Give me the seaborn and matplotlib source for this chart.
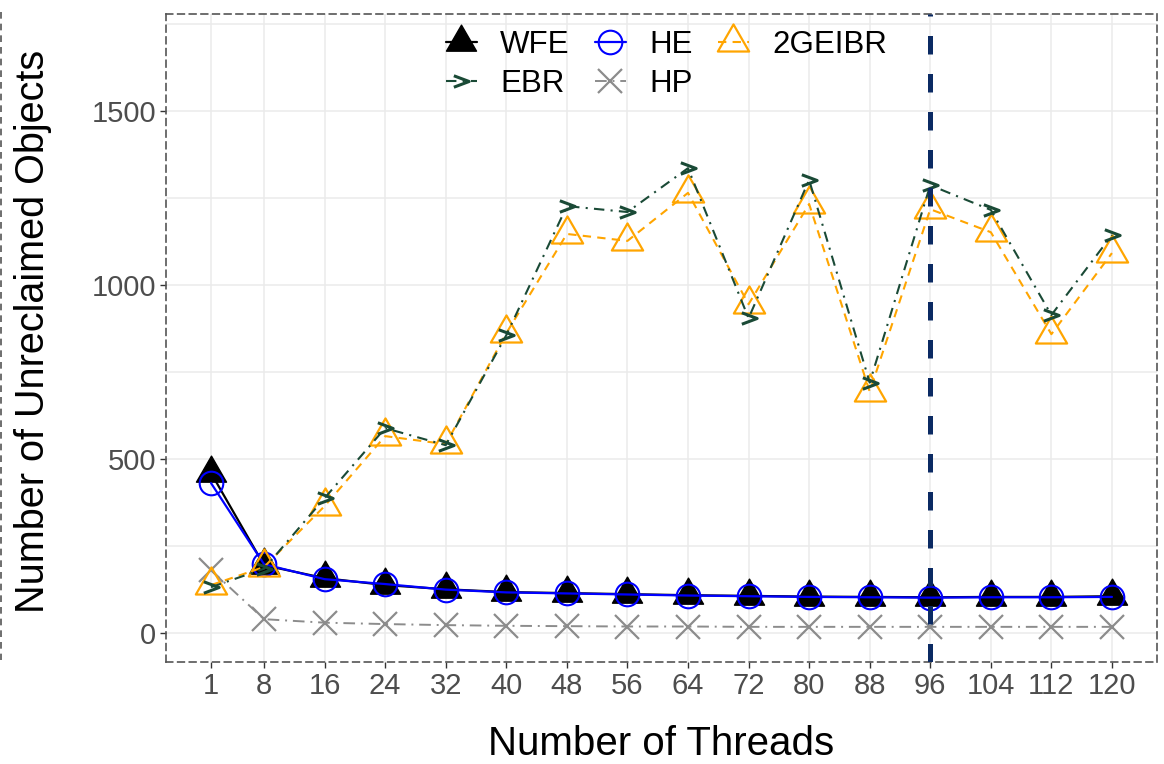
import matplotlib
matplotlib.use("Agg")
import matplotlib.pyplot as plt
import seaborn as sns
import numpy as np
from matplotlib.path import Path
from matplotlib.lines import Line2D

threads = [1, 8, 16, 24, 32, 40, 48, 56, 64, 72, 80, 88, 96, 104, 112, 120]
wfe = [460, 195, 158, 138, 126, 118, 115, 112, 109, 107, 105, 104, 103, 104, 104, 106]
he = [431, 198, 155, 141, 125, 117, 114, 111, 108, 106, 104, 103, 102, 103, 103, 104]
hp = [181, 40, 30, 26, 23, 21, 20, 19, 19, 18, 18, 18, 18, 18, 18, 18]
ebr = [132, 185, 388, 589, 540, 856, 1227, 1210, 1336, 905, 1302, 720, 1287, 1216, 914, 1144]
geibr = [138, 190, 365, 566, 543, 862, 1147, 1127, 1265, 945, 1233, 694, 1218, 1152, 859, 1092]
yticks = [0, 500, 1000, 1500]
vline_x = 96

sns.set_theme(style="whitegrid")
plt.rcParams['font.family'] = ['Liberation Sans', 'DejaVu Sans']

fig = plt.figure(figsize=(11.64, 7.64), dpi=100)
ax = fig.add_axes([166/1164, 1-662/764, (1157-166)/1164, (662-14)/764])

tri = Path([(0, 1.155), (-1, -0.577), (1, -0.577), (0, 1.155)],
           [Path.MOVETO, Path.LINETO, Path.LINETO, Path.CLOSEPOLY])
chev = Path([(-1, 0.75), (1, 0.0), (-1, -0.75)],
            [Path.MOVETO, Path.LINETO, Path.LINETO])

sns.lineplot(x=threads, y=wfe, ax=ax, color='black', lw=1.6, linestyle='-',
             marker=tri, markersize=25, markerfacecolor='black',
             markeredgecolor='black', markeredgewidth=1, label='WFE', zorder=3)
sns.lineplot(x=threads, y=he, ax=ax, color='#0000ff', lw=1.6, linestyle='-',
             marker='o', markersize=17, markerfacecolor='none',
             markeredgecolor='#0000ff', markeredgewidth=1.5, label='HE', zorder=4)
sns.lineplot(x=threads, y=hp, ax=ax, color='#8c8c8c', lw=1.4, linestyle=(0, (6, 3, 1, 3)),
             marker='x', markersize=17, markerfacecolor='none',
             markeredgecolor='#8c8c8c', markeredgewidth=1.6, label='HP', zorder=5)
sns.lineplot(x=threads, y=geibr, ax=ax, color='#ffa500', lw=1.5, linestyle=(0, (4, 3)),
             marker=tri, markersize=26, markerfacecolor='none',
             markeredgecolor='#ffa500', markeredgewidth=1.6, label='2GEIBR', zorder=6)
sns.lineplot(x=threads, y=ebr, ax=ax, color='#1a4a36', lw=1.5, linestyle=(0, (5, 3, 1, 3)),
             marker=chev, markersize=11, markerfacecolor='none',
             markeredgecolor='#1a4a36', markeredgewidth=2.2, label='EBR', zorder=7)

ax.axvline(vline_x, color='#0b2a63', lw=3.6, linestyle=(0, (3.7, 3.9)), zorder=10)

ax.set_xlim(-4.95, 125.95)
ax.set_ylim(-83, 1779)
ax.set_xticks(threads)
ax.set_xticklabels([str(t) for t in threads])
ax.set_yticks(yticks)
ax.set_yticks([250, 750, 1250, 1750], minor=True)
ax.grid(True, which='both', color='#ebebeb', lw=1.1)
ax.set_axisbelow(True)
ax.tick_params(axis='both', which='major', labelsize=21, labelcolor='#4d4d4d',
               length=4, width=1, color='#333333', direction='out', pad=3)
ax.tick_params(axis='both', which='minor', length=0)
ax.tick_params(axis='x', bottom=True)
ax.tick_params(axis='y', left=True)
for s in ax.spines.values():
    s.set_visible(True)
    s.set_color('#555555')
    s.set_linewidth(1.2)
    s.set_linestyle((0, (4, 3)))

ax.set_xlabel('Number of Threads', fontsize=29, color='black', labelpad=18)
ax.set_ylabel('Number of Unreclaimed Objects', fontsize=28.5, color='black')
ax.yaxis.set_label_coords(-0.115, 0.51)

handles, labels = ax.get_legend_handles_labels()
hmap = dict(zip(labels, handles))
order = ['WFE', 'EBR', 'HE', 'HP', '2GEIBR']
leg = ax.legend([hmap[k] for k in order], order, ncol=3, loc='upper center',
                bbox_to_anchor=(0.505, 1.0), frameon=False, fontsize=22.5,
                handlelength=1.0, handletextpad=0.75, columnspacing=0.8,
                labelspacing=0.3, borderaxespad=0.1)
for t in leg.get_texts():
    t.set_color('black')

fig.add_artist(Line2D([1/1164, 1/1164], [1-12/764, 1-660/764], transform=fig.transFigure,
                      color='#555555', lw=1.2, linestyle=(0, (4, 3))))

fig.savefig('out.png', dpi=100)
